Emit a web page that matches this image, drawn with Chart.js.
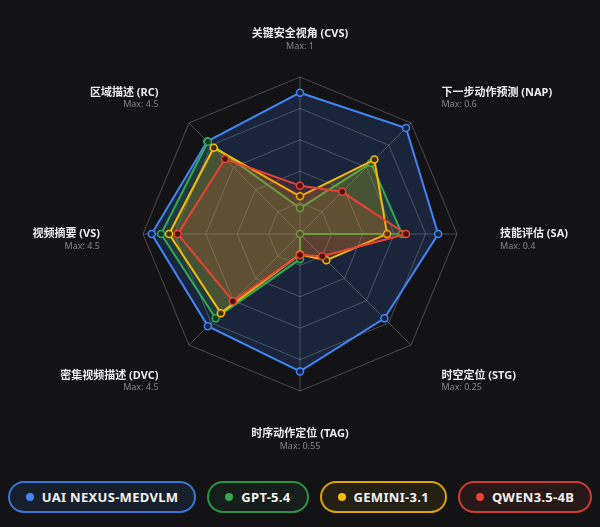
<!DOCTYPE html>
<html>
<head>
<meta charset="utf-8">
<script src="https://cdn.jsdelivr.net/npm/chart.js@4.4.1/dist/chart.umd.min.js"></script>
<style>
  html, body { margin: 0; padding: 0; background: #131316; }
  body { width: 600px; height: 527px; overflow: hidden; font-family: 'Noto Sans', 'Noto Sans CJK SC', sans-serif; }
  #wrap { position: relative; width: 600px; height: 468px; }
  #legend { display: flex; justify-content: center; gap: 11px; padding-top: 13px; }
  .pill { height: 28px; border-radius: 16px; border: 2px solid; display: flex; align-items: center; padding: 0 16px; box-sizing: content-box;
          color: #f2f2f2; font-weight: 700; font-size: 13px; letter-spacing: 0.3px; white-space: nowrap; }
  .dot { width: 8px; height: 8px; border-radius: 50%; margin-right: 8px; }
</style>
</head>
<body>
<div id="wrap"><canvas id="c"></canvas></div>
<div id="legend"></div>
<script>
const axisNames = ['关键安全视角 (CVS)', '下一步动作预测 (NAP)', '技能评估 (SA)', '时空定位 (STG)', '时序动作定位 (TAG)', '密集视频描述 (DVC)', '视频摘要 (VS)', '区域描述 (RC)'];
const axisMax = ['1', '0.6', '0.4', '0.25', '0.55', '4.5', '4.5', '4.5'];
const seriesNames = ['UAI NEXUS-MEDVLM', 'GPT-5.4', 'GEMINI-3.1', 'QWEN3.5-4B'];
// normalized score (value / axis max)
const uaiNexus = [0.90, 0.955, 0.88, 0.76, 0.875, 0.83, 0.945, 0.835];
const gpt54    = [0.165, 0.64, 0.65, 0.0, 0.16, 0.76, 0.885, 0.83];
const gemini31 = [0.24, 0.67, 0.555, 0.237, 0.13, 0.713, 0.834, 0.777];
const qwen35   = [0.308, 0.38, 0.675, 0.2, 0.134, 0.605, 0.779, 0.676];

const colors = ['#4285f4', '#34a853', '#fbbc05', '#ea4335'];
const fills = ['rgba(66,133,244,0.17)', 'rgba(52,168,83,0.18)', 'rgba(251,188,5,0.18)', 'rgba(234,67,53,0.16)'];
const pointFills = ['#14233f', '#123722', '#3d300a', '#4a1210'];
const pillBg = ['rgba(66,133,244,0.10)', 'rgba(52,168,83,0.08)', 'rgba(251,188,5,0.08)', 'rgba(234,67,53,0.10)'];
const pillBorder = ['rgba(66,133,244,0.85)', 'rgba(52,168,83,0.85)', 'rgba(251,188,5,0.85)', 'rgba(234,67,53,0.85)'];
const seriesData = [uaiNexus, gpt54, gemini31, qwen35];

const labelPlugin = {
  id: 'axisLabels',
  afterDraw(chart) {
    const scale = chart.scales.r;
    const ctx = chart.ctx;
    ctx.save();
    ctx.textBaseline = 'middle';
    for (let i = 0; i < axisNames.length; i++) {
      const p = scale.getPointPosition(i, scale.drawingArea + 43);
      const dx = p.x - scale.xCenter;
      ctx.textAlign = Math.abs(dx) < 5 ? 'center' : (dx > 0 ? 'left' : 'right');
      ctx.font = "bold 11px 'Noto Sans', 'Noto Sans CJK SC', sans-serif";
      ctx.fillStyle = '#ececec';
      ctx.fillText(axisNames[i], p.x, p.y);
      ctx.font = "9px 'Noto Sans', 'Noto Sans CJK SC', sans-serif";
      ctx.fillStyle = '#858585';
      ctx.fillText('Max: ' + axisMax[i], p.x, p.y + 12);
    }
    ctx.restore();
  }
};

new Chart(document.getElementById('c'), {
  type: 'radar',
  data: {
    labels: axisNames,
    datasets: seriesData.map((d, i) => ({
      label: seriesNames[i],
      data: d,
      borderColor: colors[i],
      backgroundColor: fills[i],
      pointBackgroundColor: pointFills[i],
      pointBorderColor: colors[i],
      pointBorderWidth: 1.5,
      pointRadius: 3.5,
      borderWidth: 2,
      fill: true,
      order: 4 - i
    }))
  },
  options: {
    responsive: true,
    maintainAspectRatio: false,
    animation: false,
    layout: { padding: { top: 77, bottom: 77 } },
    plugins: { legend: { display: false }, tooltip: { enabled: false } },
    scales: {
      r: {
        min: 0, max: 1,
        ticks: { display: false, stepSize: 0.2 },
        pointLabels: { display: false },
        grid: { color: 'rgba(255,255,255,0.24)', lineWidth: 1 },
        angleLines: { color: 'rgba(255,255,255,0.24)', lineWidth: 1 }
      }
    }
  },
  plugins: [labelPlugin]
});

const legend = document.getElementById('legend');
seriesNames.forEach((n, i) => {
  const pill = document.createElement('div');
  pill.className = 'pill';
  pill.style.borderColor = pillBorder[i];
  pill.style.background = pillBg[i];
  const dot = document.createElement('span');
  dot.className = 'dot';
  dot.style.background = colors[i];
  pill.appendChild(dot);
  pill.appendChild(document.createTextNode(n));
  legend.appendChild(pill);
});
</script>
</body>
</html>
